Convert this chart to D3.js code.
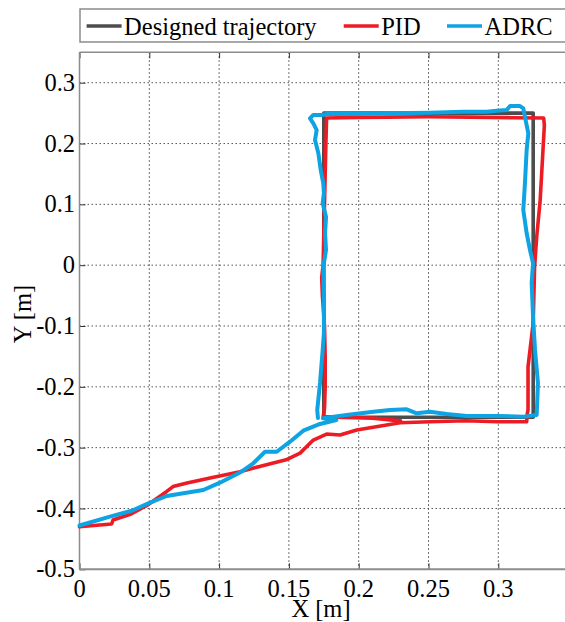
<!DOCTYPE html>
<html>
<head>
<meta charset="utf-8">
<script src="https://cdn.jsdelivr.net/npm/d3@7"></script>
</head>
<body style="margin:0;background:#fff">
<svg id="chart" width="565" height="622" font-family="Liberation Serif"></svg>
<script>
// ---- data ----
const xTicks = [0, 0.05, 0.1, 0.15, 0.2, 0.25, 0.3];
const yTicks = [-0.5, -0.4, -0.3, -0.2, -0.1, 0, 0.1, 0.2, 0.3];
const xTickLabels = ["0", "0.05", "0.1", "0.15", "0.2", "0.25", "0.3"];
const yTickLabels = ["-0.5", "-0.4", "-0.3", "-0.2", "-0.1", "0", "0.1", "0.2", "0.3"];
const seriesNames = ["Designed trajectory", "PID", "ADRC"];
const seriesColors = ["#4d4d4d", "#ed1c24", "#0ea3e2"];

const designed = [[0.175,-0.25],[0.325,-0.25],[0.325,0.25],[0.175,0.25],[0.175,-0.25]];

const pid = [
  [0,-0.430],[0.023,-0.4255],[0.024,-0.419],[0.037,-0.409],[0.049,-0.394],[0.0625,-0.372],
  [0.067,-0.364],[0.077,-0.358],[0.0935,-0.350],[0.115,-0.3395],[0.129,-0.331],[0.148,-0.320],
  [0.158,-0.309],[0.1675,-0.2875],[0.177,-0.2776],[0.1866,-0.2793],[0.1986,-0.271],[0.220,-0.2628],
  [0.2296,-0.259],[0.251,-0.2574],[0.277,-0.2557],[0.299,-0.2574],[0.3203,-0.2574],
  [0.3208,-0.2436],[0.3213,-0.238],[0.3213,-0.167],[0.325,-0.095],[0.326,-0.003],[0.3275,0.046],
  [0.330,0.107],[0.332,0.189],[0.333,0.23],[0.3325,0.242],
  [0.31,0.2425],[0.28,0.2435],[0.25,0.244],[0.22,0.2435],[0.20,0.243],[0.177,0.242],
  [0.1765,0.20],[0.176,0.15],[0.1755,0.10],[0.175,0.05],[0.1745,0.0],[0.1735,-0.02],[0.174,-0.05],
  [0.1755,-0.10],[0.176,-0.15],[0.176,-0.20],[0.1755,-0.235],[0.1746,-0.249],
  [0.19,-0.2505],[0.21,-0.2515],[0.23,-0.256]
];

const adrc = [
  [0,-0.428],[0.0218,-0.4135],[0.0374,-0.4037],[0.0493,-0.3915],[0.0625,-0.3795],[0.0744,-0.375],
  [0.0887,-0.3696],[0.1006,-0.3576],[0.116,-0.3396],[0.1245,-0.3257],[0.1329,-0.3067],[0.1413,-0.3067],
  [0.1508,-0.2902],[0.1603,-0.2721],[0.1723,-0.261],[0.184,-0.2546],
  [0.1744,-0.2518],[0.1914,-0.2463],[0.2105,-0.2409],[0.2224,-0.2381],[0.2344,-0.237],[0.2415,-0.2435],
  [0.251,-0.2409],[0.263,-0.2447],[0.2774,-0.248],[0.2989,-0.248],[0.318,-0.2491],[0.3275,-0.2463],
  [0.3284,-0.1937],[0.3263,-0.1394],[0.3249,-0.0852],[0.3239,-0.0293],[0.3249,0.0035],[0.3227,0.0249],
  [0.3203,0.0529],[0.3179,0.0907],[0.3191,0.1351],[0.3203,0.1893],[0.3215,0.2168],[0.3191,0.244],
  [0.3179,0.2578],[0.3155,0.2616],[0.3084,0.2616],[0.306,0.255],[0.2989,0.2539],[0.2917,0.2522],
  [0.2749,0.2522],[0.2511,0.2506],[0.2224,0.2496],[0.1986,0.2485],[0.1771,0.2485],[0.1735,0.2469],
  [0.1675,0.2469],[0.1651,0.2414],[0.1675,0.2332],[0.1699,0.2222],[0.1687,0.2058],[0.1711,0.1839],
  [0.1728,0.1564],[0.1746,0.135],[0.1751,0.1186],[0.1742,0.1022],[0.1766,0.0792],[0.1759,0.0529],
  [0.1766,0.0249],[0.1746,-0.003],[0.1751,-0.0572],[0.1751,-0.1115],[0.1742,-0.1394],[0.1723,-0.1937],
  [0.1703,-0.2381],[0.1708,-0.2513]
];

// ---- layout ----
const serif = "Liberation Serif";
const svg = d3.select("#chart");
const x = d3.scaleLinear().domain([0, 0.35]).range([79.5, 568.1]);
const y = d3.scaleLinear().domain([-0.5, 0.35]).range([569.3, 52.3]);
const fs = 24.5;
const frameColor = "#8c8c8c";

// grid
const grid = svg.append("g");
grid.selectAll("line.v").data(xTicks.filter(d => d > 0)).join("line")
  .attr("x1", d => x(d)).attr("x2", d => x(d))
  .attr("y1", y.range()[1]).attr("y2", y.range()[0])
  .attr("stroke", "#444").attr("stroke-width", 1).attr("stroke-dasharray", "1.5,2.5");
grid.selectAll("line.h").data(yTicks.filter(d => d > -0.5)).join("line")
  .attr("x1", x.range()[0]).attr("x2", x.range()[1])
  .attr("y1", d => y(d)).attr("y2", d => y(d))
  .attr("stroke", "#555").attr("stroke-width", 1).attr("stroke-dasharray", "1.5,2.5");

// axes (tick marks from d3 axes, labels drawn as serif text)
const gx = svg.append("g").attr("transform", `translate(0,${y(-0.5)})`)
  .call(d3.axisBottom(x).tickValues(xTicks).tickSizeInner(-6).tickSizeOuter(0).tickFormat(""));
const gxt = svg.append("g").attr("transform", `translate(0,${y(0.35)})`)
  .call(d3.axisTop(x).tickValues(xTicks).tickSizeInner(-6).tickSizeOuter(0).tickFormat(""));
const gy = svg.append("g").attr("transform", `translate(${x(0)},0)`)
  .call(d3.axisLeft(y).tickValues(yTicks).tickSizeInner(-6).tickSizeOuter(0).tickFormat(""));
[gx, gxt, gy].forEach(g => {
  g.select(".domain").remove();
  g.selectAll(".tick line").attr("stroke", "#333").attr("stroke-width", 1);
  g.selectAll(".tick text").remove();
});
svg.append("g").selectAll("text").data(xTicks).join("text")
  .attr("x", d => x(d)).attr("y", 597)
  .attr("text-anchor", "middle")
  .style("font-family", serif).style("font-size", fs + "px").attr("fill", "#000")
  .text((d, i) => xTickLabels[i]);
svg.append("g").selectAll("text").data(yTicks).join("text")
  .attr("x", x(0) - 4.5).attr("y", d => y(d)).attr("dy", "0.33em")
  .attr("text-anchor", "end")
  .style("font-family", serif).style("font-size", fs + "px").attr("fill", "#000")
  .text((d, i) => yTickLabels[i]);

// frame
svg.append("line").attr("x1", x(0)).attr("x2", 570).attr("y1", y(-0.5)).attr("y2", y(-0.5))
  .attr("stroke", frameColor).attr("stroke-width", 2);
svg.append("line").attr("x1", x(0)).attr("x2", 570).attr("y1", y(0.35)).attr("y2", y(0.35))
  .attr("stroke", frameColor).attr("stroke-width", 1.5);
svg.append("line").attr("x1", x(0)).attr("x2", x(0)).attr("y1", y(0.35)).attr("y2", y(-0.5))
  .attr("stroke", frameColor).attr("stroke-width", 1.5);

// lines
const line = d3.line().x(d => x(d[0])).y(d => y(d[1]));
const plotG = svg.append("g");
[designed, pid, adrc].forEach((data, i) => {
  plotG.append("path").datum(data).attr("d", line)
    .attr("fill", "none").attr("stroke", seriesColors[i])
    .attr("stroke-width", i === 2 ? 4 : 3.6)
    .attr("stroke-linejoin", "round").attr("stroke-linecap", "round");
});

// axis labels
svg.append("text").attr("x", 321).attr("y", 617).attr("text-anchor", "middle")
  .style("font-family", serif).style("font-size", fs + "px").text("X [m]");
svg.append("text").attr("transform", "translate(31,314) rotate(-90)").attr("text-anchor", "middle")
  .style("font-family", serif).style("font-size", fs + "px").text("Y [m]");

// legend
const lg = svg.append("g");
lg.append("rect").attr("x", 80).attr("y", 9).attr("width", 520).attr("height", 33)
  .attr("fill", "#fff").attr("stroke", frameColor).attr("stroke-width", 1.5);
const legendX = [86.6, 343.7, 447];
seriesNames.forEach((name, i) => {
  lg.append("line").attr("x1", legendX[i]).attr("x2", legendX[i] + 35)
    .attr("y1", 26).attr("y2", 26).attr("stroke", seriesColors[i]).attr("stroke-width", 3.6);
  lg.append("text").attr("x", legendX[i] + 37.5).attr("y", 35)
    .style("font-family", serif).style("font-size", fs + "px").text(name);
});
</script>
</body>
</html>
